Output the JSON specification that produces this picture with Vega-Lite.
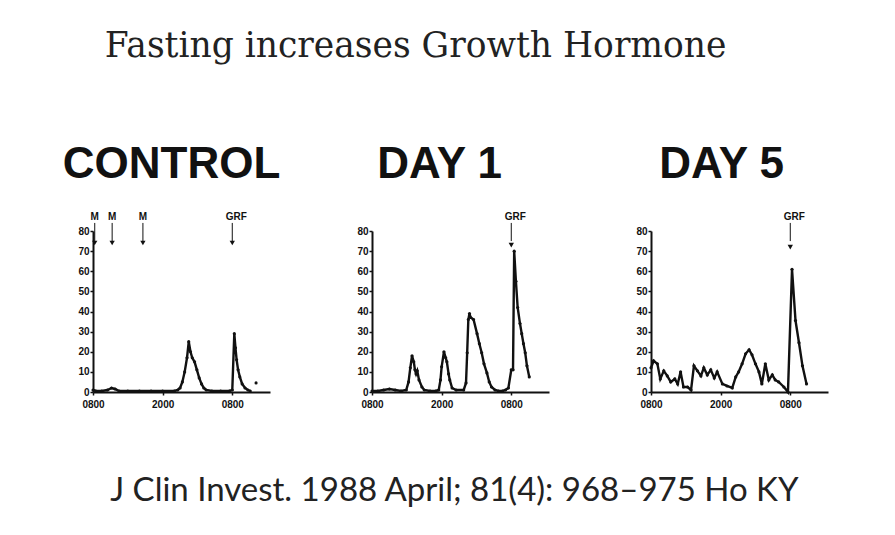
{
  "$schema": "https://vega.github.io/schema/vega-lite/v6.json",
  "background": "#ffffff",
  "padding": {"left": 62, "top": 29, "right": 10, "bottom": 10},
  "title": {"text": "Fasting increases Growth Hormone", "font": "DejaVu Serif", "fontSize": 34.5, "fontWeight": "normal", "color": "#222", "anchor": "start", "dx": 42, "offset": 78},
  "datasets": {
    "gh": [
      {"panel":"CONTROL","hour":0,"gh":1,"kind":"line"},
      {"panel":"CONTROL","hour":0.5,"gh":0.5,"kind":"line"},
      {"panel":"CONTROL","hour":1.5,"gh":0.5,"kind":"line"},
      {"panel":"CONTROL","hour":2.5,"gh":1,"kind":"line"},
      {"panel":"CONTROL","hour":3.2,"gh":2,"kind":"line"},
      {"panel":"CONTROL","hour":3.8,"gh":1.5,"kind":"line"},
      {"panel":"CONTROL","hour":4.5,"gh":0.5,"kind":"line"},
      {"panel":"CONTROL","hour":6,"gh":0.5,"kind":"line"},
      {"panel":"CONTROL","hour":8,"gh":0.5,"kind":"line"},
      {"panel":"CONTROL","hour":10,"gh":0.5,"kind":"line"},
      {"panel":"CONTROL","hour":12,"gh":0.5,"kind":"line"},
      {"panel":"CONTROL","hour":14,"gh":0.5,"kind":"line"},
      {"panel":"CONTROL","hour":14.6,"gh":1,"kind":"line"},
      {"panel":"CONTROL","hour":15.0,"gh":2,"kind":"line"},
      {"panel":"CONTROL","hour":15.4,"gh":5,"kind":"line"},
      {"panel":"CONTROL","hour":15.8,"gh":10,"kind":"line"},
      {"panel":"CONTROL","hour":16.2,"gh":17,"kind":"line"},
      {"panel":"CONTROL","hour":16.5,"gh":25,"kind":"line"},
      {"panel":"CONTROL","hour":16.8,"gh":20,"kind":"line"},
      {"panel":"CONTROL","hour":17.1,"gh":17,"kind":"line"},
      {"panel":"CONTROL","hour":17.5,"gh":15,"kind":"line"},
      {"panel":"CONTROL","hour":17.9,"gh":11,"kind":"line"},
      {"panel":"CONTROL","hour":18.3,"gh":7,"kind":"line"},
      {"panel":"CONTROL","hour":18.7,"gh":4,"kind":"line"},
      {"panel":"CONTROL","hour":19.1,"gh":2,"kind":"line"},
      {"panel":"CONTROL","hour":19.5,"gh":1,"kind":"line"},
      {"panel":"CONTROL","hour":20.5,"gh":0.5,"kind":"line"},
      {"panel":"CONTROL","hour":22,"gh":0.5,"kind":"line"},
      {"panel":"CONTROL","hour":23.5,"gh":0.5,"kind":"line"},
      {"panel":"CONTROL","hour":24.0,"gh":1,"kind":"line"},
      {"panel":"CONTROL","hour":24.35,"gh":29,"kind":"line"},
      {"panel":"CONTROL","hour":24.55,"gh":22,"kind":"line"},
      {"panel":"CONTROL","hour":24.75,"gh":16,"kind":"line"},
      {"panel":"CONTROL","hour":25.0,"gh":11,"kind":"line"},
      {"panel":"CONTROL","hour":25.3,"gh":7.5,"kind":"line"},
      {"panel":"CONTROL","hour":25.7,"gh":4,"kind":"line"},
      {"panel":"CONTROL","hour":26.2,"gh":2,"kind":"line"},
      {"panel":"CONTROL","hour":26.7,"gh":1,"kind":"line"},
      {"panel":"CONTROL","hour":27.1,"gh":0.5,"kind":"line"},
      {"panel":"CONTROL","hour":28.1,"gh":4.5,"kind":"extra"},
      {"panel":"CONTROL","hour":0.3,"kind":"marker","label":"M"},
      {"panel":"CONTROL","hour":3.3,"kind":"marker","label":"M"},
      {"panel":"CONTROL","hour":8.6,"kind":"marker","label":"M"},
      {"panel":"CONTROL","hour":24.0,"kind":"marker","label":"GRF"},

      {"panel":"DAY 1","hour":0,"gh":0.5,"kind":"line"},
      {"panel":"DAY 1","hour":1,"gh":0.5,"kind":"line"},
      {"panel":"DAY 1","hour":2,"gh":1,"kind":"line"},
      {"panel":"DAY 1","hour":3,"gh":1.5,"kind":"line"},
      {"panel":"DAY 1","hour":4,"gh":1,"kind":"line"},
      {"panel":"DAY 1","hour":5,"gh":0.5,"kind":"line"},
      {"panel":"DAY 1","hour":5.9,"gh":1,"kind":"line"},
      {"panel":"DAY 1","hour":6.3,"gh":5,"kind":"line"},
      {"panel":"DAY 1","hour":6.6,"gh":12,"kind":"line"},
      {"panel":"DAY 1","hour":6.9,"gh":18,"kind":"line"},
      {"panel":"DAY 1","hour":7.2,"gh":15,"kind":"line"},
      {"panel":"DAY 1","hour":7.4,"gh":11,"kind":"line"},
      {"panel":"DAY 1","hour":7.6,"gh":9,"kind":"line"},
      {"panel":"DAY 1","hour":7.8,"gh":10.5,"kind":"line"},
      {"panel":"DAY 1","hour":8.1,"gh":6,"kind":"line"},
      {"panel":"DAY 1","hour":8.6,"gh":2.5,"kind":"line"},
      {"panel":"DAY 1","hour":9,"gh":1,"kind":"line"},
      {"panel":"DAY 1","hour":10,"gh":0.5,"kind":"line"},
      {"panel":"DAY 1","hour":11,"gh":0.5,"kind":"line"},
      {"panel":"DAY 1","hour":11.5,"gh":1,"kind":"line"},
      {"panel":"DAY 1","hour":11.8,"gh":6,"kind":"line"},
      {"panel":"DAY 1","hour":12.0,"gh":12.5,"kind":"line"},
      {"panel":"DAY 1","hour":12.4,"gh":20,"kind":"line"},
      {"panel":"DAY 1","hour":12.7,"gh":17,"kind":"line"},
      {"panel":"DAY 1","hour":12.9,"gh":15,"kind":"line"},
      {"panel":"DAY 1","hour":13.2,"gh":9,"kind":"line"},
      {"panel":"DAY 1","hour":13.4,"gh":6,"kind":"line"},
      {"panel":"DAY 1","hour":13.8,"gh":2,"kind":"line"},
      {"panel":"DAY 1","hour":14.5,"gh":1,"kind":"line"},
      {"panel":"DAY 1","hour":15.8,"gh":1,"kind":"line"},
      {"panel":"DAY 1","hour":16.2,"gh":4.5,"kind":"line"},
      {"panel":"DAY 1","hour":16.4,"gh":19.5,"kind":"line"},
      {"panel":"DAY 1","hour":16.6,"gh":36,"kind":"line"},
      {"panel":"DAY 1","hour":16.8,"gh":39,"kind":"line"},
      {"panel":"DAY 1","hour":17.0,"gh":37,"kind":"line"},
      {"panel":"DAY 1","hour":17.5,"gh":36,"kind":"line"},
      {"panel":"DAY 1","hour":18.1,"gh":29,"kind":"line"},
      {"panel":"DAY 1","hour":18.5,"gh":24,"kind":"line"},
      {"panel":"DAY 1","hour":18.9,"gh":19.5,"kind":"line"},
      {"panel":"DAY 1","hour":19.3,"gh":14,"kind":"line"},
      {"panel":"DAY 1","hour":19.8,"gh":9.5,"kind":"line"},
      {"panel":"DAY 1","hour":20.2,"gh":5,"kind":"line"},
      {"panel":"DAY 1","hour":20.6,"gh":2.5,"kind":"line"},
      {"panel":"DAY 1","hour":21.2,"gh":1,"kind":"line"},
      {"panel":"DAY 1","hour":21.8,"gh":0.5,"kind":"line"},
      {"panel":"DAY 1","hour":22.5,"gh":0.5,"kind":"line"},
      {"panel":"DAY 1","hour":23,"gh":1,"kind":"line"},
      {"panel":"DAY 1","hour":23.5,"gh":2,"kind":"line"},
      {"panel":"DAY 1","hour":24.0,"gh":11,"kind":"line"},
      {"panel":"DAY 1","hour":24.3,"gh":11,"kind":"line"},
      {"panel":"DAY 1","hour":24.5,"gh":70,"kind":"line"},
      {"panel":"DAY 1","hour":24.8,"gh":55,"kind":"line"},
      {"panel":"DAY 1","hour":25.1,"gh":42,"kind":"line"},
      {"panel":"DAY 1","hour":25.5,"gh":34,"kind":"line"},
      {"panel":"DAY 1","hour":25.8,"gh":29,"kind":"line"},
      {"panel":"DAY 1","hour":26.1,"gh":24,"kind":"line"},
      {"panel":"DAY 1","hour":26.4,"gh":19.5,"kind":"line"},
      {"panel":"DAY 1","hour":26.7,"gh":13,"kind":"line"},
      {"panel":"DAY 1","hour":27.1,"gh":7.5,"kind":"line"},
      {"panel":"DAY 1","hour":24.0,"kind":"marker","label":"GRF"},

      {"panel":"DAY 5","hour":0,"gh":12,"kind":"line"},
      {"panel":"DAY 5","hour":0.45,"gh":15.5,"kind":"line"},
      {"panel":"DAY 5","hour":1.1,"gh":14,"kind":"line"},
      {"panel":"DAY 5","hour":1.6,"gh":6.5,"kind":"line"},
      {"panel":"DAY 5","hour":2.2,"gh":10.5,"kind":"line"},
      {"panel":"DAY 5","hour":2.8,"gh":8,"kind":"line"},
      {"panel":"DAY 5","hour":3.4,"gh":5,"kind":"line"},
      {"panel":"DAY 5","hour":4.1,"gh":6.5,"kind":"line"},
      {"panel":"DAY 5","hour":4.6,"gh":4,"kind":"line"},
      {"panel":"DAY 5","hour":5.1,"gh":10,"kind":"line"},
      {"panel":"DAY 5","hour":5.6,"gh":2.5,"kind":"line"},
      {"panel":"DAY 5","hour":6.3,"gh":2.5,"kind":"line"},
      {"panel":"DAY 5","hour":6.9,"gh":1,"kind":"line"},
      {"panel":"DAY 5","hour":7.4,"gh":13,"kind":"line"},
      {"panel":"DAY 5","hour":8.0,"gh":10.5,"kind":"line"},
      {"panel":"DAY 5","hour":8.6,"gh":8,"kind":"line"},
      {"panel":"DAY 5","hour":9.1,"gh":12,"kind":"line"},
      {"panel":"DAY 5","hour":9.7,"gh":8.5,"kind":"line"},
      {"panel":"DAY 5","hour":10.3,"gh":11,"kind":"line"},
      {"panel":"DAY 5","hour":10.9,"gh":7,"kind":"line"},
      {"panel":"DAY 5","hour":11.4,"gh":10,"kind":"line"},
      {"panel":"DAY 5","hour":12.3,"gh":4,"kind":"line"},
      {"panel":"DAY 5","hour":13.1,"gh":3,"kind":"line"},
      {"panel":"DAY 5","hour":14.0,"gh":2,"kind":"line"},
      {"panel":"DAY 5","hour":14.6,"gh":7.5,"kind":"line"},
      {"panel":"DAY 5","hour":15.1,"gh":10,"kind":"line"},
      {"panel":"DAY 5","hour":15.7,"gh":14,"kind":"line"},
      {"panel":"DAY 5","hour":16.3,"gh":19,"kind":"line"},
      {"panel":"DAY 5","hour":16.9,"gh":21,"kind":"line"},
      {"panel":"DAY 5","hour":17.4,"gh":18.5,"kind":"line"},
      {"panel":"DAY 5","hour":18.0,"gh":14,"kind":"line"},
      {"panel":"DAY 5","hour":18.6,"gh":10,"kind":"line"},
      {"panel":"DAY 5","hour":19.1,"gh":4,"kind":"line"},
      {"panel":"DAY 5","hour":19.7,"gh":14,"kind":"line"},
      {"panel":"DAY 5","hour":20.3,"gh":6,"kind":"line"},
      {"panel":"DAY 5","hour":20.9,"gh":8.5,"kind":"line"},
      {"panel":"DAY 5","hour":21.4,"gh":6,"kind":"line"},
      {"panel":"DAY 5","hour":22.0,"gh":5,"kind":"line"},
      {"panel":"DAY 5","hour":22.9,"gh":2.5,"kind":"line"},
      {"panel":"DAY 5","hour":23.6,"gh":0,"kind":"line"},
      {"panel":"DAY 5","hour":24.3,"gh":61,"kind":"line"},
      {"panel":"DAY 5","hour":24.9,"gh":35.5,"kind":"line"},
      {"panel":"DAY 5","hour":25.5,"gh":24.5,"kind":"line"},
      {"panel":"DAY 5","hour":26.1,"gh":13,"kind":"line"},
      {"panel":"DAY 5","hour":26.8,"gh":4,"kind":"line"},
      {"panel":"DAY 5","hour":24.0,"kind":"marker","label":"GRF"}
    ]
  },
  "data": {"name": "gh"},
  "vconcat": [
    {
      "title": {"text": "J Clin Invest. 1988 April; 81(4): 968–975 Ho KY", "orient": "bottom", "font": "Lato", "fontSize": 33, "fontWeight": "normal", "color": "#222", "offset": 66, "anchor": "middle", "dx": 9},
      "spacing": 102,
      "bounds": "flush",
      "hconcat": [
        {
          "title": {"text": "CONTROL", "dx": -10},
          "width": 177, "height": 161,
          "transform": [{"filter": "datum.panel == 'CONTROL'"}],
          "resolve": {"axis": {"y": "independent"}},
          "encoding": {
            "x": {"field": "hour", "type": "quantitative", "scale": {"domain": [0, 30.5], "nice": false}, "axis": {"values": [0, 12, 24], "labelExpr": "datum.value == 12 ? '2000' : '0800'", "labelFlush": false, "labelPadding": 4}}
          },
          "layer": [
            {"transform": [{"filter": "datum.kind == 'line'"}], "mark": {"type": "line", "color": "#111", "strokeWidth": 2.4},
             "encoding": {"y": {"field": "gh", "type": "quantitative", "scale": {"domain": [0, 80], "nice": false}, "axis": {"values": [0, 10, 20, 30, 40, 50, 60, 70, 80], "labelPadding": 1, "labelOverlap": false}}}},
            {"transform": [{"filter": "datum.kind != 'marker'"}], "mark": {"type": "circle", "size": 10, "color": "#111", "opacity": 1},
             "encoding": {"y": {"field": "gh", "type": "quantitative", "axis": null}}},
            {"transform": [{"filter": "datum.kind == 'marker'"}], "mark": {"type": "rule", "color": "#111", "strokeWidth": 1},
             "encoding": {"y": {"datum": 84, "type": "quantitative", "axis": null}, "y2": {"datum": 75}}},
            {"transform": [{"filter": "datum.kind == 'marker'"}], "mark": {"type": "point", "shape": "triangle-down", "filled": true, "size": 28, "color": "#111", "opacity": 1, "clip": false},
             "encoding": {"y": {"datum": 74, "type": "quantitative", "axis": null}}},
            {"transform": [{"filter": "datum.kind == 'marker' && datum.label == 'M'"}], "mark": {"type": "text", "font": "Liberation Sans", "fontSize": 10, "fontWeight": "bold", "color": "#111", "clip": false},
             "encoding": {"y": {"datum": 87, "type": "quantitative", "axis": null}, "text": {"field": "label"}}},
            {"transform": [{"filter": "datum.kind == 'marker' && datum.label == 'GRF'"}], "mark": {"type": "text", "font": "Liberation Sans", "fontSize": 10, "fontWeight": "bold", "color": "#111", "dx": 4, "clip": false},
             "encoding": {"y": {"datum": 87, "type": "quantitative", "axis": null}, "text": {"field": "label"}}}
          ]
        },
        {
          "title": {"text": "DAY 1", "dx": -21},
          "width": 177, "height": 161,
          "transform": [{"filter": "datum.panel == 'DAY 1'"}],
          "resolve": {"axis": {"y": "independent"}},
          "encoding": {
            "x": {"field": "hour", "type": "quantitative", "scale": {"domain": [0, 30.5], "nice": false}, "axis": {"values": [0, 12, 24], "labelExpr": "datum.value == 12 ? '2000' : '0800'", "labelFlush": false, "labelPadding": 4}}
          },
          "layer": [
            {"transform": [{"filter": "datum.kind == 'line'"}], "mark": {"type": "line", "color": "#111", "strokeWidth": 2.4},
             "encoding": {"y": {"field": "gh", "type": "quantitative", "scale": {"domain": [0, 80], "nice": false}, "axis": {"values": [0, 10, 20, 30, 40, 50, 60, 70, 80], "labelPadding": 1, "labelOverlap": false}}}},
            {"transform": [{"filter": "datum.kind != 'marker'"}], "mark": {"type": "circle", "size": 10, "color": "#111", "opacity": 1},
             "encoding": {"y": {"field": "gh", "type": "quantitative", "axis": null}}},
            {"transform": [{"filter": "datum.kind == 'marker'"}], "mark": {"type": "rule", "color": "#111", "strokeWidth": 1},
             "encoding": {"y": {"datum": 84, "type": "quantitative", "axis": null}, "y2": {"datum": 75}}},
            {"transform": [{"filter": "datum.kind == 'marker'"}], "mark": {"type": "point", "shape": "triangle-down", "filled": true, "size": 28, "color": "#111", "opacity": 1, "clip": false},
             "encoding": {"y": {"datum": 73, "type": "quantitative", "axis": null}}},
            {"transform": [{"filter": "datum.kind == 'marker'"}], "mark": {"type": "text", "font": "Liberation Sans", "fontSize": 10, "fontWeight": "bold", "color": "#111", "dx": 4, "clip": false},
             "encoding": {"y": {"datum": 87, "type": "quantitative", "axis": null}, "text": {"field": "label"}}}
          ]
        },
        {
          "title": {"text": "DAY 5", "dx": -18},
          "width": 177, "height": 161,
          "transform": [{"filter": "datum.panel == 'DAY 5'"}],
          "resolve": {"axis": {"y": "independent"}},
          "encoding": {
            "x": {"field": "hour", "type": "quantitative", "scale": {"domain": [0, 30.5], "nice": false}, "axis": {"values": [0, 12, 24], "labelExpr": "datum.value == 12 ? '2000' : '0800'", "labelFlush": false, "labelPadding": 4}}
          },
          "layer": [
            {"transform": [{"filter": "datum.kind == 'line'"}], "mark": {"type": "line", "color": "#111", "strokeWidth": 2.4},
             "encoding": {"y": {"field": "gh", "type": "quantitative", "scale": {"domain": [0, 80], "nice": false}, "axis": {"values": [0, 10, 20, 30, 40, 50, 60, 70, 80], "labelPadding": 1, "labelOverlap": false}}}},
            {"transform": [{"filter": "datum.kind != 'marker'"}], "mark": {"type": "circle", "size": 10, "color": "#111", "opacity": 1},
             "encoding": {"y": {"field": "gh", "type": "quantitative", "axis": null}}},
            {"transform": [{"filter": "datum.kind == 'marker'"}], "mark": {"type": "rule", "color": "#111", "strokeWidth": 1},
             "encoding": {"y": {"datum": 84, "type": "quantitative", "axis": null}, "y2": {"datum": 75}}},
            {"transform": [{"filter": "datum.kind == 'marker'"}], "mark": {"type": "point", "shape": "triangle-down", "filled": true, "size": 28, "color": "#111", "opacity": 1, "clip": false},
             "encoding": {"y": {"datum": 72, "type": "quantitative", "axis": null}}},
            {"transform": [{"filter": "datum.kind == 'marker'"}], "mark": {"type": "text", "font": "Liberation Sans", "fontSize": 10, "fontWeight": "bold", "color": "#111", "dx": 4, "clip": false},
             "encoding": {"y": {"datum": 87, "type": "quantitative", "axis": null}, "text": {"field": "label"}}}
          ]
        }
      ]
    }
  ],
  "config": {
    "view": {"stroke": null},
    "title": {"font": "Liberation Sans", "fontSize": 44, "fontWeight": "bold", "color": "#111", "offset": 25, "anchor": "middle"},
    "axis": {"domainColor": "#111", "domainWidth": 2, "tickColor": "#111", "tickWidth": 1.5, "tickSize": 3, "labelFont": "Liberation Sans", "labelFontSize": 10, "labelFontWeight": "bold", "labelColor": "#111", "grid": false, "title": null, "labelOverlap": false}
  }
}
